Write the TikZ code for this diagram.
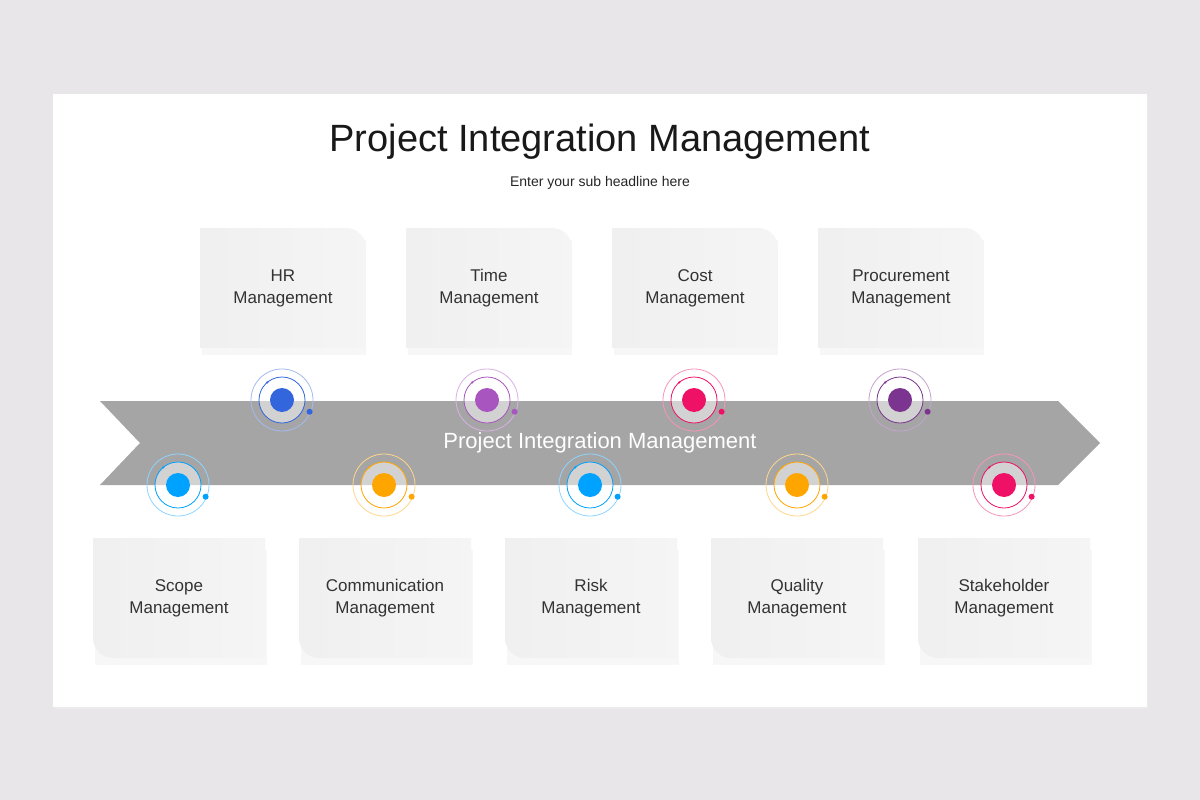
\documentclass[tikz,border=0pt]{standalone}
\usepackage{fontspec}
\setmainfont{Liberation Sans}
\usetikzlibrary{positioning,calc}
\definecolor{pageBg}{HTML}{E8E6E8}
\definecolor{arrowGray}{HTML}{A5A5A5}
\definecolor{textDark}{HTML}{333333}
\definecolor{hrBlue}{HTML}{3366DD}
\definecolor{timePurple}{HTML}{A855C0}
\definecolor{costPink}{HTML}{EE1166}
\definecolor{procPurple}{HTML}{7B3590}
\definecolor{scopeCyan}{HTML}{00A2FF}
\definecolor{commOrange}{HTML}{FFA500}
\tikzset{
  boxtext/.style={align=center, text=textDark, font=\fontsize{17}{22}\selectfont},
  cardbox/.style={left color=black!6, middle color=black!2, right color=black!4, draw=none},
  boxshadow/.style={fill=black!3},
}
\newcommand{\target}[3]{% center, colour, name
  \fill[white, opacity=0.5] (#1) circle (23);
  \draw[#2!45, line width=0.8pt] (#1) circle (31);
  \draw[#2, line width=0.8pt] (#1) circle (23);
  \fill[#2] (#1) circle (12);
  \fill[#2] ($(#1)+(23:30)$) circle (3);
  \fill[#2] ($(#1)+(-130:23)$) circle (1.2);
  \coordinate (#3) at (#1);
}
\begin{document}
\begin{tikzpicture}[x=1pt,y=-1pt]
  \fill[pageBg] (0,0) rectangle (1200,800);
  % card
  \fill[black!8] (55,96) rectangle (1148,709);
  \fill[white] (53,94) rectangle (1147,707);
  \node[font=\fontsize{38}{44}\selectfont, text=black!90] (title) at (600,142) {Project Integration Management};
  \node[font=\fontsize{14}{16}\selectfont, text=black!85] (sub) at (600,183) {Enter your sub headline here};
  % top boxes
  \foreach \cx/\txt [count=\i] in {283/HR, 489/Time, 695/Cost, 901/Procurement} {
    \fill[boxshadow] (\cx-81,240) rectangle (\cx+83,355);
    \shade[cardbox] (\cx-83,348) -- (\cx-83,228) [rounded corners=20] -- (\cx+83,228)
      [sharp corners] -- (\cx+83,348) -- cycle;
    \node[boxtext] (top\i) at (\cx,288) {\txt\\Management};
  }
  % bottom boxes
  \foreach \cx/\txt [count=\i] in {179/Scope, 385/Communication, 591/Risk, 797/Quality, 1004/Stakeholder} {
    \fill[boxshadow] (\cx-84,550) rectangle (\cx+88,665);
    \shade[cardbox] (\cx+86,538) -- (\cx-86,538) [rounded corners=20] -- (\cx-86,658)
      [sharp corners] -- (\cx+86,658) -- cycle;
    \node[boxtext] (bot\i) at (\cx,598) {\txt\\Management};
  }
  % arrow
  \fill[arrowGray] (100,401) -- (1058,401) -- (1100,443) -- (1058,485) -- (100,485) -- (140,443) -- cycle;
  \node[text=white, font=\fontsize{22}{26}\selectfont] (band) at (600,443) {Project Integration Management};
  % targets
  \target{282,400}{hrBlue}{t1}
  \target{487,400}{timePurple}{t2}
  \target{694,400}{costPink}{t3}
  \target{900,400}{procPurple}{t4}
  \target{178,485}{scopeCyan}{b1}
  \target{384,485}{commOrange}{b2}
  \target{590,485}{scopeCyan}{b3}
  \target{797,485}{commOrange}{b4}
  \target{1004,485}{costPink}{b5}
\end{tikzpicture}
\end{document}
